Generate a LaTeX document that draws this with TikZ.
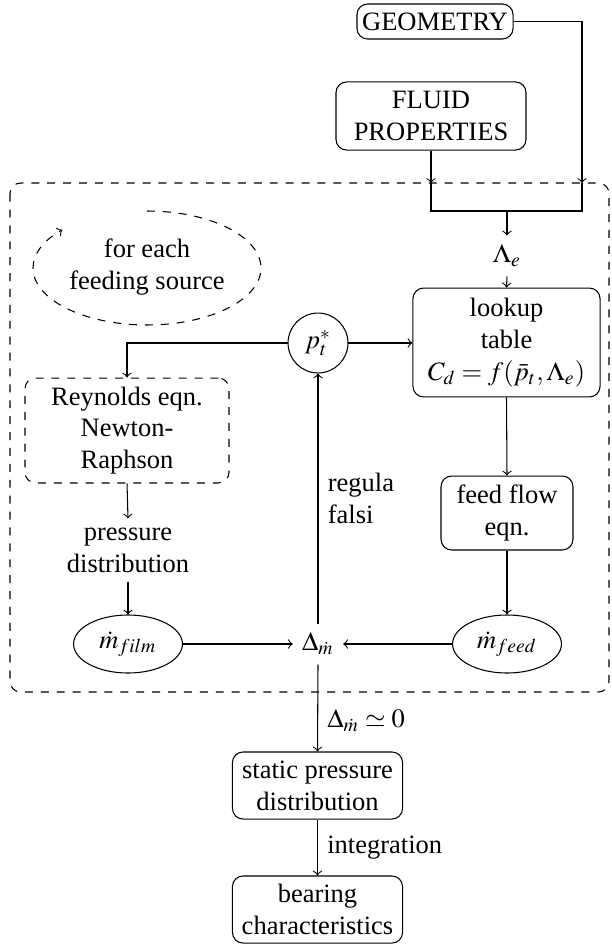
\documentclass[tikz,border=0pt]{standalone}
\usepackage{mathptmx}
\usepackage{fontspec}
\setmainfont{Liberation Serif}
\usetikzlibrary{shapes.geometric}
\tikzset{
  box/.style={draw, rounded corners=4pt, align=center, inner sep=0pt},
  dbox/.style={box, dashed},
  oval/.style={draw, ellipse, inner sep=0pt, minimum width=41.1pt, minimum height=21.9pt},
  lbl/.style={anchor=west, align=left, inner sep=0pt},
}
\begin{document}
\begin{tikzpicture}[x=0.3774pt, y=-0.3774pt]
\useasboundingbox (0,0) rectangle (611,944);
% outer dashed frame
\draw[dashed, rounded corners=4pt] (10,183) rectangle (609,692);
% loop ellipse
\node[align=center] (each) at (147,267) {for each\\feeding source};
\draw[dashed,->] (147,211) arc[start angle=90, end angle=-222, x radius=43.02pt, y radius=21.51pt];
% nodes
\node[box, minimum width=58.9pt, minimum height=13.2pt] (geo) at (435,21.5) {GEOMETRY};
\node[box, minimum width=71.7pt, minimum height=25.7pt] (fluid) at (431,116) {FLUID\\PROPERTIES};
\coordinate (jf) at (431,183);
\coordinate (jg) at (582,183);
\coordinate (jm) at (507,211);
\node (lam) at (507,256) {$\Lambda_e$};
\node[box, minimum width=70.6pt, minimum height=41.1pt] (look) at (506.5,342.5) {lookup\\table\\$C_d=f(\bar{p}_t,\Lambda_e)$};
\node[draw, circle, minimum size=22.6pt, inner sep=0pt] (circ) at (318,343) {$p_t^*$};
\node[dbox, minimum width=77pt, minimum height=39.6pt] (rey) at (127,430.5) {Reynolds eqn.\\Newton-\\Raphson};
\node[align=center] (pd) at (128,550) {pressure\\distribution};
\node[box, minimum width=49.8pt, minimum height=27.9pt] (ff) at (507,513) {feed flow\\eqn.};
\node[oval] (mfilm) at (128,644) {$\dot{m}_{film}$};
\node[oval] (mfeed) at (507,644) {$\dot{m}_{feed}$};
\node (dm) at (318,644) {$\Delta_{\dot{m}}$};
\node[box, minimum width=64.2pt, minimum height=25.3pt] (stat) at (317.5,785.5) {static pressure\\distribution};
\node[box, minimum width=64.2pt, minimum height=25.3pt] (bear) at (317.5,909.5) {bearing\\characteristics};
% connectors
\draw[->] (geo.east) -| (jg);
\draw[->] (fluid.south) -- (jf);
\draw (jf) |- (jm) -| (jg);
\draw[->] (jm) -- (lam.north);
\draw[->] (lam.south) -- (look.north);
\draw[->] (circ.east) -- (circ.east -| look.west);
\draw[->] (circ.west) -| (rey.north);
\draw[->] (rey.south) -- (pd.north);
\draw[->] (pd.south) -- (mfilm.north);
\draw[->] (look.south) -- (ff.north);
\draw[->] (ff.south) -- (mfeed.north);
\draw[->] (mfilm.east) -- (dm.west);
\draw[->] (mfeed.west) -- (dm.east);
\draw[->] (dm.north) -- (circ.south) node[lbl, pos=0.5, xshift=3.5pt] {regula\\falsi};
\draw[->] (dm.south) -- (stat.north) node[lbl, pos=0.65, xshift=3.5pt] {$\Delta_{\dot{m}}\simeq 0$};
\draw[->] (stat.south) -- (bear.north) node[lbl, midway, xshift=3.5pt] {integration};
\end{tikzpicture}
\end{document}
